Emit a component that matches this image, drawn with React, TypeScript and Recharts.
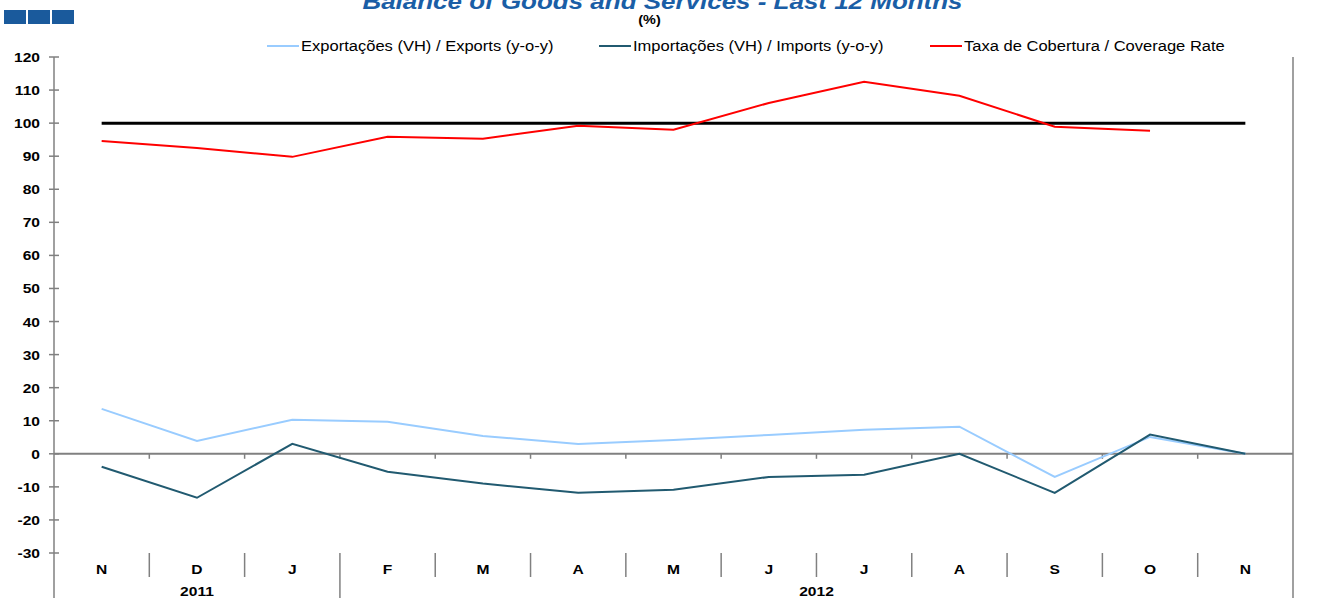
import React from "react";
import { ComposedChart, Line, XAxis, YAxis, ReferenceLine } from "recharts";

const MONTHS = ["N", "D", "J", "F", "M", "A", "M", "J", "J", "A", "S", "O", "N"];
const EXPORTS = [13.6, 3.9, 10.3, 9.7, 5.4, 3.0, 4.2, 5.7, 7.3, 8.2, -7.0, 5.1, 0];
const IMPORTS = [-3.9, -13.3, 3.0, -5.4, -9.0, -11.8, -10.9, -7.0, -6.3, 0, -11.8, 5.8, 0];
const COVERAGE = [94.6, 92.5, 89.8, 95.9, 95.3, 99.2, 98.0, 106.1, 112.5, 108.3, 98.9, 97.7, null];
const PARITY = [100, 100, 100, 100, 100, 100, 100, 100, 100, 100, 100, 100, 100];
const Y_TICKS = [-30, -20, -10, 0, 10, 20, 30, 40, 50, 60, 70, 80, 90, 100, 110, 120];
const YEARS = [
  { label: "2011", from: 0, to: 3 },
  { label: "2012", from: 3, to: 13 },
];

const SERIES = [
  { key: "exports", name: "Exportações (VH) / Exports (y-o-y)", color: "#99ccff" },
  { key: "imports", name: "Importações (VH) / Imports (y-o-y)", color: "#215a70" },
  { key: "coverage", name: "Taxa de Cobertura / Coverage Rate", color: "#ff0000" },
];

const data = MONTHS.map((m, i) => ({
  m,
  exports: EXPORTS[i],
  imports: IMPORTS[i],
  coverage: COVERAGE[i],
  parity: PARITY[i],
}));

const W = 1333;
const H = 598;
const LEFT_W = 54;
const RIGHT_W = 40;
const AXIS = "#808080";
const FONT = "'Liberation Sans', Arial, sans-serif";
const SX = 1.2; // source text looks stretched sideways

const HALF_STEP = (W - LEFT_W - RIGHT_W) / MONTHS.length / 2;

function LeftTick({ x, y, payload }: any) {
  return (
    <g>
      <line x1={x - 5} x2={x + 5} y1={y} y2={y} stroke={AXIS} strokeWidth={1.5} />
      <text
        transform={`translate(${x - 14},${y + 5}) scale(${SX},1)`}
        textAnchor="end"
        fontSize={13}
        fontWeight="bold"
        fontFamily={FONT}
        fill="#000"
      >
        {payload.value}
      </text>
    </g>
  );
}

function RightTick({ x, y, payload }: any) {
  return (
    <g>
      <line x1={x - 6} x2={x} y1={y} y2={y} stroke={AXIS} strokeWidth={1.5} />
      <text
        transform={`translate(${x + 9},${y + 5}) scale(${SX},1)`}
        textAnchor="start"
        fontSize={13}
        fontWeight="bold"
        fontFamily={FONT}
        fill="#000"
      >
        {payload.value}
      </text>
    </g>
  );
}

function MonthTick({ x, y, payload, index }: any) {
  const half = payload?.offset > 0 ? payload.offset : HALF_STEP;
  const left = x - half;
  const starts = YEARS.find((g) => g.from === index);
  const last = index === MONTHS.length - 1;
  return (
    <g>
      <line x1={left} x2={left} y1={y} y2={starts ? y + 45 : y + 24} stroke={AXIS} strokeWidth={1.5} />
      {last && <line x1={x + half} x2={x + half} y1={y} y2={y + 45} stroke={AXIS} strokeWidth={1.5} />}
      <text
        transform={`translate(${x},${y + 21}) scale(${SX},1)`}
        textAnchor="middle"
        fontSize={13}
        fontWeight="bold"
        fontFamily={FONT}
        fill="#000"
      >
        {MONTHS[index] ?? payload.value}
      </text>
      {starts && (
        <text
          transform={`translate(${left + (starts.to - starts.from) * half},${y + 43}) scale(${SX},1)`}
          textAnchor="middle"
          fontSize={13}
          fontWeight="bold"
          fontFamily={FONT}
          fill="#000"
        >
          {starts.label}
        </text>
      )}
    </g>
  );
}

function ZeroLine(props: any) {
  const { x1, x2, y1 } = props;
  const step = (x2 - x1) / MONTHS.length;
  const marks = MONTHS.slice(1).map((_, i) => x1 + step * (i + 1));
  return (
    <g>
      <line x1={x1} x2={x2} y1={y1} y2={y1} stroke={AXIS} strokeWidth={2} />
      {marks.map((mx, i) => (
        <line key={i} x1={mx} x2={mx} y1={y1} y2={y1 + 5} stroke={AXIS} strokeWidth={1.5} />
      ))}
    </g>
  );
}

export default function App() {
  return (
    <div
      style={{
        position: "absolute",
        left: 0,
        top: 0,
        width: W,
        height: H,
        background: "#fff",
        overflow: "hidden",
        fontFamily: FONT,
      }}
    >
      {/* blue squares */}
      <div style={{ position: "absolute", left: 4, top: 10, display: "flex", gap: 2 }}>
        {[0, 1, 2].map((i) => (
          <div key={i} style={{ width: 22, height: 14, background: "#1a5a9c" }} />
        ))}
      </div>
      <div
        style={{
          position: "absolute",
          left: -4,
          top: -12,
          width: W,
          textAlign: "center",
          fontSize: 22,
          fontWeight: "bold",
          fontStyle: "italic",
          color: "#1a5ea6",
          transform: "scaleX(1.18)",
          lineHeight: "28px",
        }}
      >
        Balance of Goods and Services - Last 12 Months
      </div>
      <div
        style={{
          position: "absolute",
          left: -17,
          top: 13,
          width: W,
          textAlign: "center",
          fontSize: 12,
          fontWeight: "bold",
          transform: `scaleX(${SX})`,
          lineHeight: "14px",
        }}
      >
        (%)
      </div>
      <div style={{ position: "absolute", left: 267, top: 38, display: "flex" }}>
        {SERIES.map((s) => (
          <div key={s.key} style={{ width: 331.5, display: "flex", alignItems: "center", height: 16 }}>
            <div style={{ width: 32, height: 2, background: s.color, marginRight: 2, flex: "none" }} />
            <span
              style={{
                display: "inline-block",
                fontSize: 14,
                whiteSpace: "nowrap",
                transform: "scaleX(1.18)",
                transformOrigin: "left center",
                color: "#000",
              }}
            >
              {s.name}
            </span>
          </div>
        ))}
      </div>
      <ComposedChart width={W} height={H} data={data} margin={{ top: 57, right: 0, bottom: 0, left: 0 }}>
        <XAxis
          dataKey="m"
          height={45}
          padding={{ left: HALF_STEP, right: HALF_STEP }}
          axisLine={false}
          tickLine={false}
          tickSize={0}
          tickMargin={0}
          interval={0}
          tick={<MonthTick />}
        />
        <YAxis
          yAxisId="left"
          width={LEFT_W}
          domain={[-30, 120]}
          ticks={Y_TICKS}
          interval={0}
          axisLine={{ stroke: AXIS, strokeWidth: 1.5 }}
          tickLine={false}
          tickSize={0}
          tickMargin={0}
          tick={<LeftTick />}
        />
        <YAxis
          yAxisId="right"
          orientation="right"
          width={RIGHT_W}
          domain={[-30, 120]}
          ticks={Y_TICKS}
          interval={0}
          axisLine={{ stroke: AXIS, strokeWidth: 1.5 }}
          tickLine={false}
          tickSize={0}
          tickMargin={0}
          tick={<RightTick />}
        />
        <ReferenceLine yAxisId="left" y={0} shape={<ZeroLine />} />
        <Line
          yAxisId="left"
          dataKey="parity"
          stroke="#000"
          strokeWidth={3}
          dot={false}
          isAnimationActive={false}
        />
        {SERIES.map((s) => (
          <Line
            key={s.key}
            yAxisId="left"
            dataKey={s.key}
            name={s.name}
            stroke={s.color}
            strokeWidth={2}
            dot={false}
            isAnimationActive={false}
          />
        ))}
      </ComposedChart>
    </div>
  );
}
